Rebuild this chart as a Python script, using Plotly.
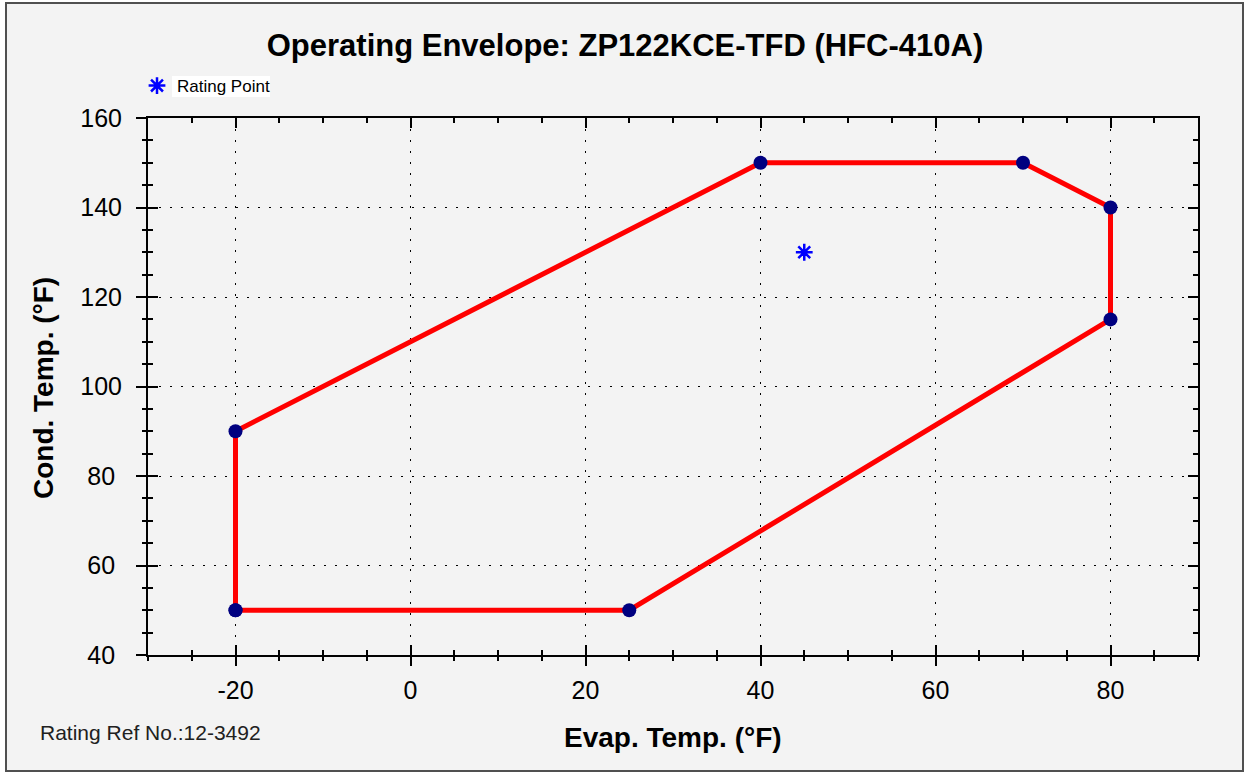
import plotly.graph_objects as go

# ---- data ----
env_evap = [-20, -20, 40, 70, 80, 80, 25, -20]
env_cond = [50, 90, 150, 150, 140, 115, 50, 50]
rating_evap = [45]
rating_cond = [130]
x_tickvals = [-20, 0, 20, 40, 60, 80]
x_ticktext = ["-20", "0", "20", "40", "60", "80"]
y_tickvals = [40, 60, 80, 100, 120, 140, 160]
y_ticktext = ["40\u2008", "60\u2008", "80\u2008", "100", "120", "140", "160"]
x_range = [-30, 90]
y_range = [40, 160]

W, H = 1245, 773
L, R, T, B = 148, 47, 118, 118
PW, PH = W - L - R, H - T - B


def px_x(p):
    return (p - L) / PW


def px_y(p):
    return (H - B - p) / PH


FONT = "Liberation Sans, Arial, sans-serif"

fig = go.Figure()

fig.add_trace(go.Scatter(
    x=env_evap, y=env_cond, mode="lines+markers",
    line=dict(color="#ff0000", width=5),
    marker=dict(color="#000080", size=14, symbol="circle"),
    showlegend=False, hoverinfo="x+y"))

fig.add_trace(go.Scatter(
    x=rating_evap, y=rating_cond, mode="markers", name="Rating Point",
    marker=dict(symbol="asterisk-open", size=14, color="#0000ff",
                line=dict(color="#0000ff", width=2.5)),
    showlegend=True))

# invisible trace to host the outer (outside-tick) axes
fig.add_trace(go.Scatter(
    x=env_evap, y=env_cond, xaxis="x2", yaxis="y2", mode="lines",
    line=dict(width=0), opacity=0, showlegend=False, hoverinfo="skip"))

common_inner = dict(
    showline=True, linecolor="black", linewidth=2, mirror="ticks",
    ticks="inside", ticklen=10, tickwidth=2, tickcolor="black",
    showgrid=True, gridcolor="black", gridwidth=1, griddash="2px,9px",
    zeroline=False, showticklabels=False,
    minor=dict(ticks="inside", ticklen=5, tickwidth=2, tickcolor="black",
               dtick=5, showgrid=False),
)

fig.update_layout(
    width=W, height=H, autosize=False,
    margin=dict(l=L, r=R, t=T, b=B),
    paper_bgcolor="white", plot_bgcolor="white",
    font=dict(family=FONT, color="black"),
    title=dict(text="<b>Operating Envelope: ZP122KCE-TFD (HFC-410A)</b>",
               x=625 / W, xref="container", y=1 - 45 / H, yref="container",
               xanchor="center", yanchor="middle",
               font=dict(size=31, family=FONT, color="black")),
    xaxis=dict(range=x_range, tickmode="array", tickvals=x_tickvals,
               **common_inner),
    yaxis=dict(range=y_range, tickmode="array", tickvals=y_tickvals,
               **common_inner),
    xaxis2=dict(range=x_range, overlaying="x", anchor="y2", side="bottom",
                tickmode="array", tickvals=x_tickvals, ticktext=x_ticktext,
                ticks="outside", ticklen=10, tickwidth=2, tickcolor="black",
                ticklabelstandoff=3,
                showline=False, showgrid=False, zeroline=False,
                tickfont=dict(size=25, family=FONT, color="black"),
                minor=dict(ticks="outside", ticklen=5, tickwidth=2,
                           tickcolor="black", dtick=5, showgrid=False)),
    yaxis2=dict(range=y_range, overlaying="y", anchor="x2", side="left",
                tickmode="array", tickvals=y_tickvals, ticktext=y_ticktext,
                ticks="outside", ticklen=11, tickwidth=2, tickcolor="black",
                ticklabelstandoff=9,
                showline=False, showgrid=False, zeroline=False,
                tickfont=dict(size=25, family=FONT, color="black"),
                minor=dict(ticks="outside", ticklen=5, tickwidth=2,
                           tickcolor="black", dtick=5, showgrid=False)),
    legend=dict(x=px_x(137), y=px_y(68), xanchor="left", yanchor="top",
                bgcolor="rgba(0,0,0,0)", borderwidth=0,
                font=dict(size=17, family=FONT, color="black")),
    shapes=[
        dict(type="rect", xref="paper", yref="paper", layer="below",
             x0=px_x(6), x1=px_x(1243), y0=px_y(771), y1=px_y(3),
             fillcolor="#f3f3f3", line=dict(color="#505050", width=2)),
        dict(type="rect", xref="paper", yref="paper", layer="below",
             x0=px_x(172), x1=px_x(270), y0=px_y(97), y1=px_y(76),
             fillcolor="white", line=dict(width=0)),
    ],
    annotations=[
        dict(text="<b>Evap. Temp. (°F)</b>", xref="paper", yref="paper",
             x=0.5, y=px_y(738), xanchor="center", yanchor="middle",
             showarrow=False, font=dict(size=28, family=FONT, color="black")),
        dict(text="<b>Cond. Temp. (°F)</b>", xref="paper", yref="paper",
             x=px_x(43), y=px_y(388), xanchor="center", yanchor="middle",
             textangle=-90, showarrow=False,
             font=dict(size=28, family=FONT, color="black")),
        dict(text="Rating Ref No.:12-3492", xref="paper", yref="paper",
             x=px_x(38), y=px_y(732), xanchor="left", yanchor="middle",
             showarrow=False, font=dict(size=21, family=FONT, color="#202020")),
    ],
)

fig.write_html("out.html")
